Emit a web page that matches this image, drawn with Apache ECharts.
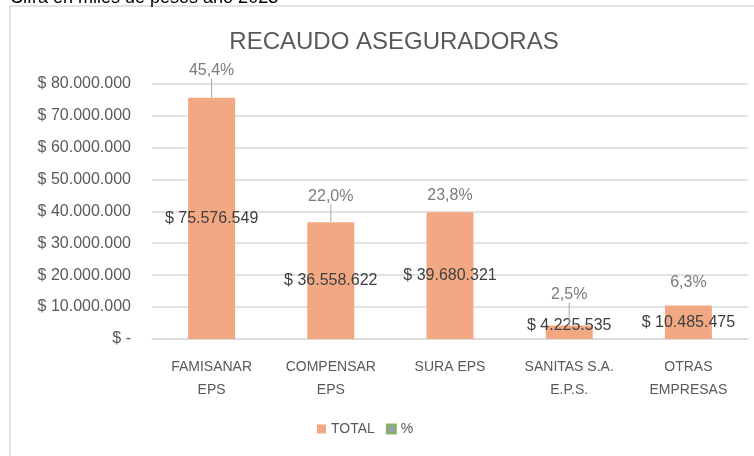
<!DOCTYPE html>
<html>
<head>
<meta charset="utf-8">
<script src="https://cdn.jsdelivr.net/npm/echarts@6/dist/echarts.min.js"></script>
<style>
  html, body { margin: 0; padding: 0; background: #fff; }
  #chart { width: 754px; height: 456px; }
</style>
</head>
<body>
<div id="chart"></div>
<script>
const categories = ["FAMISANAR\nEPS", "COMPENSAR\nEPS", "SURA EPS", "SANITAS S.A.\nE.P.S.", "OTRAS\nEMPRESAS"];
const totals = [75576549, 36558622, 39680321, 4225535, 10485475];
const percents = [45.4, 22.0, 23.8, 2.5, 6.3];

// how far each % label was dragged above its bar in the original
const pctShift = [-27, -26, -17, -31, -23];
const totalShift = [0, 0, 0, -7, 0];

const font = "Liberation Sans";

const money = (v) => {
  if (v === 0) return "$ -";
  return "$ " + String(v).replace(/\B(?=(\d{3})+(?!\d))/g, ".");
};

const chart = echarts.init(document.getElementById("chart"));

// only labels pulled far from the bar get a leader line
const pctData = totals.map((v, i) => ({
  value: v,
  labelLine: { show: Math.abs(pctShift[i]) >= 25 },
}));

const option = {
  animation: false,
  textStyle: { fontFamily: font },
  graphic: [
    {
      type: "rect",
      shape: { x: 10, y: 6, width: 780, height: 480 },
      style: { fill: "none", stroke: "#d9d9d9", lineWidth: 1.5 },
    },
    {
      type: "text",
      left: 10,
      top: -11,
      style: { text: "Cifra en miles de pesos año 2023", font: "18px " + font, fill: "#000" },
    },
  ],
  title: {
    text: "RECAUDO ASEGURADORAS",
    left: 389,
    textAlign: "center",
    top: 25,
    textStyle: { fontFamily: font, fontSize: 24, fontWeight: "normal", color: "#595959" },
  },
  legend: {
    left: 312,
    top: 417,
    itemWidth: 9,
    itemHeight: 9,
    itemGap: 11,
    textStyle: { fontFamily: font, fontSize: 14, color: "#595959" },
    data: [
      { name: "TOTAL", icon: "rect" },
      { name: "%", icon: "rect", itemStyle: { color: "#7f8a93", borderColor: "#70ad47", borderWidth: 2 } },
    ],
  },
  grid: { left: 152, right: 6, top: 83.5, bottom: 117 },
  xAxis: {
    type: "category",
    data: categories,
    axisLine: { lineStyle: { color: "#d9d9d9", width: 1.5 } },
    axisTick: { show: false },
    axisLabel: { margin: 17, fontSize: 14, lineHeight: 23, color: "#595959", interval: 0 },
  },
  yAxis: {
    type: "value",
    min: 0,
    max: 80000000,
    interval: 10000000,
    axisLabel: { formatter: money, fontSize: 16, color: "#595959", margin: 21 },
    splitLine: { lineStyle: { color: "#d9d9d9", width: 1.5 } },
  },
  series: [
    {
      name: "TOTAL",
      type: "bar",
      data: totals,
      barWidth: 47,
      itemStyle: { color: "#f2a983" },
      label: {
        show: true,
        position: "inside",
        formatter: (p) => money(p.value),
        fontSize: 16,
        color: "#404040",
      },
      labelLayout: (p) => ({ dy: totalShift[p.dataIndex] }),
    },
    {
      name: "%",
      type: "scatter",
      data: pctData,
      symbolSize: 0.01,
      itemStyle: { color: "#7f8a93" },
      label: {
        show: true,
        position: "inside",
        formatter: (p) => percents[p.dataIndex].toFixed(1).replace(".", ",") + "%",
        fontSize: 16,
        color: "#595959",
      },
      labelLayout: (p) => ({ dy: pctShift[p.dataIndex] }),
      labelLine: { lineStyle: { color: "#a6a6a6", width: 1 } },
    },
  ],
};

chart.setOption(option);
</script>
</body>
</html>
